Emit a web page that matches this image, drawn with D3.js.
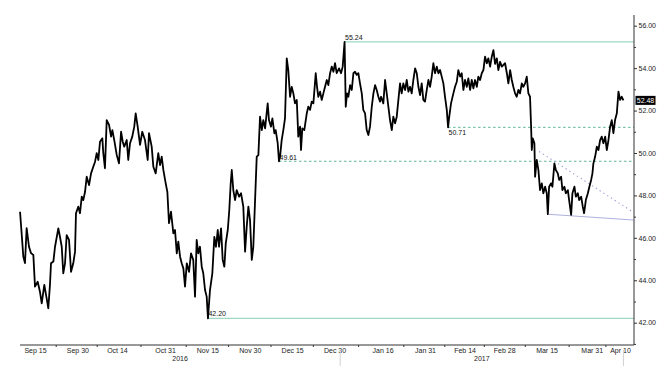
<!DOCTYPE html>
<html>
<head>
<meta charset="utf-8">
<script src="https://cdn.jsdelivr.net/npm/d3@7"></script>
<style>
  body { margin: 0; background: #fff; }
  text { font-family: "Liberation Sans", Arial, sans-serif; }
</style>
</head>
<body>
<script>
// price series (hourly stamps)
var times = [
  "2016-09-09 17","2016-09-10 21","2016-09-11 11","2016-09-12 01","2016-09-12 21","2016-09-13 14","2016-09-14 10","2016-09-15 00","2016-09-15 23","2016-09-16 18",
  "2016-09-17 09","2016-09-18 07","2016-09-19 03","2016-09-19 17","2016-09-20 07","2016-09-20 16","2016-09-21 12","2016-09-22 02","2016-09-23 06","2016-09-23 20",
  "2016-09-24 11","2016-09-25 00","2016-09-25 15","2016-09-26 05","2016-09-27 01","2016-09-27 18","2016-09-28 13","2016-09-29 04","2016-09-29 12","2016-09-30 08",
  "2016-09-30 22","2016-10-01 13","2016-10-02 02","2016-10-02 17","2016-10-03 07","2016-10-04 03","2016-10-04 20","2016-10-05 15","2016-10-06 06","2016-10-06 20",
  "2016-10-07 10","2016-10-08 00","2016-10-08 20","2016-10-09 04","2016-10-09 18","2016-10-10 09","2016-10-11 05","2016-10-11 22","2016-10-12 09","2016-10-13 01",
  "2016-10-13 22","2016-10-14 17","2016-10-15 11","2016-10-16 01","2016-10-16 14","2016-10-17 11","2016-10-18 00","2016-10-18 15","2016-10-19 10","2016-10-20 03",
  "2016-10-20 15","2016-10-21 08","2016-10-22 04","2016-10-22 23","2016-10-23 22","2016-10-24 21","2016-10-25 08","2016-10-26 07","2016-10-26 21","2016-10-27 17",
  "2016-10-28 15","2016-10-29 06","2016-10-29 20","2016-10-30 10","2016-10-31 06","2016-10-31 20","2016-11-01 10","2016-11-02 03","2016-11-02 23","2016-11-03 13",
  "2016-11-04 04","2016-11-04 17","2016-11-05 08","2016-11-05 22","2016-11-06 12","2016-11-07 02","2016-11-07 17","2016-11-08 12","2016-11-09 05","2016-11-10 00",
  "2016-11-10 15","2016-11-11 05","2016-11-11 19","2016-11-12 09","2016-11-13 00","2016-11-13 13","2016-11-14 04","2016-11-14 18","2016-11-15 05","2016-11-15 22",
  "2016-11-16 18","2016-11-17 11","2016-11-18 01","2016-11-18 16","2016-11-19 03","2016-11-19 20","2016-11-20 10","2016-11-21 00","2016-11-21 12","2016-11-22 05",
  "2016-11-22 18","2016-11-23 06","2016-11-23 15","2016-11-24 04","2016-11-24 19","2016-11-25 09","2016-11-26 05","2016-11-26 22","2016-11-27 17","2016-11-28 08",
  "2016-11-28 22","2016-11-29 12","2016-11-30 02","2016-11-30 17","2016-12-01 06","2016-12-01 21","2016-12-02 11","2016-12-03 01","2016-12-03 15","2016-12-04 06",
  "2016-12-04 19","2016-12-05 10","2016-12-06 08","2016-12-06 19","2016-12-07 12","2016-12-08 00","2016-12-08 17","2016-12-09 04","2016-12-09 21","2016-12-10 08",
  "2016-12-10 17","2016-12-11 07","2016-12-11 21","2016-12-12 11","2016-12-13 02","2016-12-13 15","2016-12-14 06","2016-12-14 20","2016-12-15 10","2016-12-16 00",
  "2016-12-16 15","2016-12-17 04","2016-12-17 19","2016-12-18 03","2016-12-18 14","2016-12-19 07","2016-12-20 04","2016-12-20 17","2016-12-21 08","2016-12-21 22",
  "2016-12-22 12","2016-12-22 20","2016-12-23 08","2016-12-23 19","2016-12-24 06","2016-12-24 21","2016-12-25 11","2016-12-26 01","2016-12-26 15","2016-12-27 06",
  "2016-12-27 19","2016-12-28 10","2016-12-29 00","2016-12-29 14","2016-12-30 04","2016-12-30 18","2016-12-31 14","2017-01-01 07","2017-01-01 21","2017-01-02 13",
  "2017-01-02 23","2017-01-03 10","2017-01-03 21","2017-01-04 12","2017-01-05 02","2017-01-05 16","2017-01-06 06","2017-01-06 20","2017-01-07 10","2017-01-08 00",
  "2017-01-08 15","2017-01-09 04","2017-01-09 19","2017-01-10 09","2017-01-10 23","2017-01-11 13","2017-01-12 04","2017-01-12 18","2017-01-13 08","2017-01-13 22",
  "2017-01-14 12","2017-01-15 02","2017-01-15 11","2017-01-16 06","2017-01-16 21","2017-01-17 11","2017-01-18 01","2017-01-18 15","2017-01-19 06","2017-01-19 19",
  "2017-01-20 10","2017-01-21 00","2017-01-21 14","2017-01-22 04","2017-01-22 18","2017-01-23 08","2017-01-23 23","2017-01-24 13","2017-01-25 03","2017-01-25 17",
  "2017-01-26 07","2017-01-26 21","2017-01-27 12","2017-01-28 02","2017-01-28 16","2017-01-29 06","2017-01-29 20","2017-01-30 10","2017-01-31 00","2017-01-31 15",
  "2017-02-01 05","2017-02-01 19","2017-02-02 09","2017-02-02 23","2017-02-03 13","2017-02-04 04","2017-02-04 18","2017-02-05 08","2017-02-05 22","2017-02-06 12",
  "2017-02-07 02","2017-02-07 17","2017-02-08 04","2017-02-08 12","2017-02-09 05","2017-02-10 01","2017-02-10 15","2017-02-11 06","2017-02-11 19","2017-02-12 10",
  "2017-02-13 00","2017-02-13 14","2017-02-14 04","2017-02-14 19","2017-02-15 08","2017-02-15 23","2017-02-16 13","2017-02-17 03","2017-02-17 17","2017-02-18 08",
  "2017-02-18 21","2017-02-19 12","2017-02-20 02","2017-02-20 16","2017-02-21 06","2017-02-21 21","2017-02-22 10","2017-02-23 01","2017-02-23 15","2017-02-24 05",
  "2017-02-24 19","2017-02-25 10","2017-02-25 23","2017-02-26 14","2017-02-27 04","2017-02-28 08","2017-02-28 23","2017-03-01 12","2017-03-02 03","2017-03-02 17",
  "2017-03-03 06","2017-03-03 21","2017-03-04 11","2017-03-05 01","2017-03-05 15","2017-03-06 06","2017-03-06 19","2017-03-07 10","2017-03-08 00","2017-03-08 14",
  "2017-03-09 04","2017-03-09 13","2017-03-09 19","2017-03-10 03","2017-03-10 17","2017-03-10 23","2017-03-11 13","2017-03-12 03","2017-03-12 17","2017-03-13 08",
  "2017-03-13 21","2017-03-14 12","2017-03-15 02","2017-03-15 11","2017-03-15 22","2017-03-16 15","2017-03-17 02","2017-03-17 19","2017-03-18 07","2017-03-19 00",
  "2017-03-19 11","2017-03-20 04","2017-03-20 15","2017-03-21 08","2017-03-21 20","2017-03-22 13","2017-03-23 00","2017-03-23 17","2017-03-24 04","2017-03-24 21",
  "2017-03-25 09","2017-03-26 02","2017-03-26 13","2017-03-27 06","2017-03-27 20","2017-03-28 07","2017-03-28 22","2017-03-29 15","2017-03-30 04","2017-03-30 19",
  "2017-03-31 06","2017-03-31 14","2017-04-01 05","2017-04-01 19","2017-04-02 09","2017-04-02 23","2017-04-03 13","2017-04-04 03","2017-04-04 18","2017-04-05 08",
  "2017-04-05 22","2017-04-06 12","2017-04-07 02","2017-04-07 16","2017-04-08 06","2017-04-08 21","2017-04-09 11","2017-04-10 01","2017-04-10 15","2017-04-11 05"
];
var prices = [
  47.23,45.11,44.81,46.46,45.58,45.28,45.19,43.70,43.93,43.46,
  42.91,43.78,43.15,42.68,43.78,44.80,44.88,45.58,46.45,46.05,
  45.58,44.33,44.80,46.13,45.90,44.40,44.80,45.35,47.16,47.47,
  47.16,47.94,47.78,48.17,48.88,48.49,49.04,49.35,49.59,49.99,
  49.67,50.53,50.69,49.99,49.28,51.55,51.32,50.77,51.08,50.61,
  49.91,49.51,51.00,50.53,50.30,50.61,49.67,50.46,50.77,51.24,
  51.87,51.24,50.38,51.00,50.61,49.67,50.93,50.30,49.35,49.04,
  49.99,49.43,49.83,49.20,48.57,48.17,46.69,47.23,46.21,46.37,
  45.27,45.82,45.11,44.80,44.56,43.70,44.80,44.40,45.27,44.96,
  43.23,45.90,45.27,45.58,44.64,44.33,43.54,43.23,42.20,43.54,
  44.33,46.05,45.58,46.37,45.58,46.45,44.96,44.64,45.74,46.37,
  47.31,48.57,49.20,48.25,47.78,48.25,47.94,48.10,47.47,45.35,
  46.53,47.47,46.84,44.96,45.58,47.78,49.83,49.90,51.71,51.08,
  51.55,51.16,52.34,51.55,51.24,51.63,50.93,51.08,50.46,49.61,
  49.83,50.61,51.08,51.63,54.46,53.91,52.65,53.12,52.81,52.34,
  52.50,50.77,51.24,50.14,51.16,51.08,51.87,52.18,52.03,52.42,
  52.34,52.89,53.76,53.12,52.65,52.89,52.50,52.81,53.12,53.44,
  53.20,53.76,54.07,53.83,54.23,53.76,53.99,53.76,54.07,55.24,
  52.18,52.81,52.65,53.20,52.97,53.76,53.83,53.68,53.76,53.28,
  52.81,52.03,51.87,51.08,50.85,51.24,52.18,52.81,53.20,52.97,
  52.65,52.42,52.65,52.34,53.44,52.81,52.18,51.55,51.08,51.71,
  51.40,51.71,52.50,53.28,52.81,53.28,52.97,53.44,52.89,53.12,
  52.81,53.44,53.99,53.76,53.12,52.73,53.28,52.50,52.42,52.97,
  53.44,53.12,53.60,54.23,53.76,54.07,53.76,53.91,53.60,53.28,
  52.65,52.03,51.21,51.63,52.34,52.81,53.12,53.36,53.91,53.60,
  53.76,52.97,53.44,53.12,53.52,52.97,53.44,53.05,53.44,53.12,
  53.60,53.44,53.76,53.91,54.54,54.23,54.46,54.07,54.54,54.85,
  54.20,54.46,53.91,54.30,54.07,54.23,53.76,53.28,53.91,53.44,
  53.12,52.81,52.65,52.97,52.81,53.28,53.12,53.28,53.60,52.81,
  52.65,51.24,50.14,50.69,50.46,48.88,49.67,49.20,48.25,48.57,
  48.10,48.41,48.10,47.12,48.41,48.57,48.41,49.51,49.20,49.04,
  48.73,48.88,48.25,48.41,48.10,48.25,47.78,47.08,48.10,48.41,
  47.94,48.10,47.78,47.94,47.47,47.16,47.78,48.10,48.41,48.73,
  49.04,49.51,49.83,50.30,50.14,50.61,50.77,50.46,50.77,50.14,
  50.61,51.24,51.55,50.93,51.55,51.87,52.89,52.50,52.65,52.48
];
var lastPrice = 52.48;

// horizontal levels: solid high/low, dashed pullback levels
var solidLevelValues = [55.24, 42.20];
var solidLevelStarts = ["2017-01-02 13", "2016-11-15 05"];
var solidLevelLabels = ["55.24", "42.20"];
var dashedLevelValues = [49.61, 51.21];
var dashedLevelStarts = ["2016-12-10 08", "2017-02-08 04"];
var dashedLevelLabels = ["49.61", "50.71"];

// trend lines
var downTrendTimes = ["2017-03-12 09", "2017-04-14 19"];
var downTrendValues = [50.07, 47.20];
var supportTimes = ["2017-03-15 16", "2017-04-14 19"];
var supportValues = [47.11, 46.84];

// axes
var xLabelDates = ["2016-09-15","2016-09-30","2016-10-14","2016-10-31","2016-11-15","2016-11-30","2016-12-15",
                   "2016-12-30","2017-01-16","2017-01-31","2017-02-14","2017-02-28","2017-03-15","2017-03-31","2017-04-10"];
var yearLabels = ["2016", "2017"];
var yTicks = [42, 44, 46, 48, 50, 52, 54, 56];
var yMinorTicks = [41, 43, 45, 47, 49, 51, 53, 55];

var width = 668, height = 366;
var plot = {left: 20, right: 634, top: 15, bottom: 345};

var parseHour = d3.timeParse("%Y-%m-%d %H");
var parseDay = d3.timeParse("%Y-%m-%d");

var data = times.map(function(t, i) { return {t: parseHour(t), v: prices[i]}; });

var x = d3.scaleTime()
    .domain([parseDay("2016-09-15"), parseDay("2017-04-10")])
    .range([35, 620]);
var y = d3.scaleLinear().domain([42, 56]).range([322.7, 25.7]);

var svg = d3.select("body").append("svg")
    .attr("width", width)
    .attr("height", height);

// solid levels
solidLevelValues.forEach(function(v, i) {
  var x0 = x(parseHour(solidLevelStarts[i]));
  svg.append("line")
    .attr("x1", x0).attr("x2", plot.right)
    .attr("y1", y(v)).attr("y2", y(v))
    .attr("stroke", "#9fd9c2").attr("stroke-width", 1.2);
  svg.append("text")
    .attr("x", x0 + 0.5).attr("y", y(v) - 2)
    .attr("font-size", "7px").attr("fill", "#111")
    .text(solidLevelLabels[i]);
});

// dashed levels
dashedLevelValues.forEach(function(v, i) {
  var x0 = x(parseHour(dashedLevelStarts[i]));
  svg.append("line")
    .attr("x1", x0).attr("x2", plot.right)
    .attr("y1", y(v)).attr("y2", y(v))
    .attr("stroke", "#5cb596").attr("stroke-width", 1)
    .attr("stroke-dasharray", "2.5,2.5");
  svg.append("text")
    .attr("x", x0 + 0.5).attr("y", i === 0 ? y(v) - 1.5 : y(v) + 7.5)
    .attr("font-size", "7px").attr("fill", "#111")
    .text(dashedLevelLabels[i]);
});

// trend lines
var tline = d3.line()
    .x(function(d) { return x(d.t); })
    .y(function(d) { return y(d.v); });

svg.append("path")
  .datum(downTrendTimes.map(function(t, i) { return {t: parseHour(t), v: downTrendValues[i]}; }))
  .attr("d", tline)
  .attr("fill", "none").attr("stroke", "#979dd4").attr("stroke-width", 1.1)
  .attr("stroke-dasharray", "1.3,3.2");

svg.append("path")
  .datum(supportTimes.map(function(t, i) { return {t: parseHour(t), v: supportValues[i]}; }))
  .attr("d", tline)
  .attr("fill", "none").attr("stroke", "#aeb2dc").attr("stroke-width", 1);

// price line
svg.append("path")
  .datum(data)
  .attr("d", tline)
  .attr("fill", "none")
  .attr("stroke", "#000")
  .attr("stroke-width", 1.8)
  .attr("stroke-linejoin", "round");

// right axis
svg.append("line")
  .attr("x1", plot.right).attr("x2", plot.right)
  .attr("y1", plot.top).attr("y2", plot.bottom)
  .attr("stroke", "#333");

var yAxis = svg.append("g")
  .attr("transform", "translate(" + plot.right + ",0)")
  .call(d3.axisRight(y).tickValues(yTicks).tickSize(3).tickPadding(1.5).tickFormat(d3.format(".2f")));
yAxis.select(".domain").remove();
yAxis.selectAll("text").attr("font-size", "7px").attr("font-family", "Liberation Sans, Arial, sans-serif").attr("fill", "#222");
yAxis.selectAll("line").attr("stroke", "#333");

var yMinor = svg.append("g")
  .attr("transform", "translate(" + plot.right + ",0)")
  .call(d3.axisRight(y).tickValues(yMinorTicks).tickSize(2).tickFormat(""));
yMinor.select(".domain").remove();
yMinor.selectAll("line").attr("stroke", "#333");

// last price tag
svg.append("rect")
  .attr("x", plot.right + 1.5).attr("y", y(lastPrice) - 4.5)
  .attr("width", 20).attr("height", 9)
  .attr("fill", "#000");
svg.append("text")
  .attr("x", plot.right + 11.5).attr("y", y(lastPrice) + 2.5)
  .attr("text-anchor", "middle")
  .attr("font-size", "7px").attr("fill", "#fff")
  .text(d3.format(".2f")(lastPrice));

// bottom axis
svg.append("line")
  .attr("x1", plot.left).attr("x2", plot.right)
  .attr("y1", plot.bottom).attr("y2", plot.bottom)
  .attr("stroke", "#333");

var labelDates = xLabelDates.map(parseDay);
var xAxis = svg.append("g")
  .attr("transform", "translate(0," + plot.bottom + ")")
  .call(d3.axisBottom(x).tickValues(labelDates).tickSize(0).tickPadding(3).tickFormat(d3.timeFormat("%b %d")));
xAxis.select(".domain").remove();
xAxis.selectAll("text").attr("font-size", "7px").attr("font-family", "Liberation Sans, Arial, sans-serif").attr("fill", "#222");

// small ticks between the labels
for (var i = 0; i < labelDates.length - 1; i++) {
  var mx = (x(labelDates[i]) + x(labelDates[i + 1])) / 2;
  svg.append("line")
    .attr("x1", mx).attr("x2", mx)
    .attr("y1", plot.bottom).attr("y2", plot.bottom + 2)
    .attr("stroke", "#333");
}

// year labels and separators
var yearStart = parseDay("2017-01-01");
var lastTime = data[data.length - 1].t;
var yearCenters = [(plot.left + x(yearStart)) / 2, (x(yearStart) + x(lastTime)) / 2];
yearLabels.forEach(function(lbl, i) {
  svg.append("text")
    .attr("x", yearCenters[i]).attr("y", 361)
    .attr("text-anchor", "middle")
    .attr("font-size", "7px").attr("fill", "#222")
    .text(lbl);
});
[x(yearStart), x(lastTime)].forEach(function(px) {
  svg.append("line")
    .attr("x1", px).attr("x2", px)
    .attr("y1", plot.bottom + 5).attr("y2", height)
    .attr("stroke", "#d0d0d0");
});
</script>
</body>
</html>
